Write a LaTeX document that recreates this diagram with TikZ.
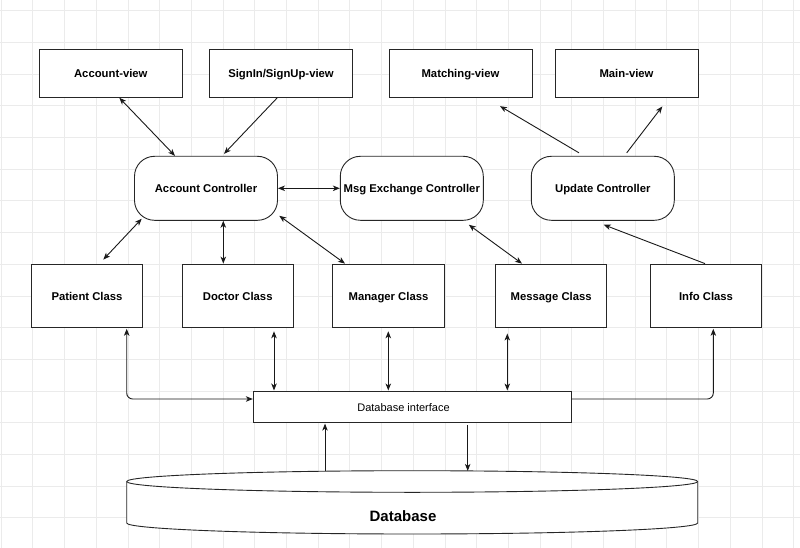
\documentclass[tikz,border=0pt]{standalone}
\usepackage{fontspec}
\setmainfont{Liberation Sans}
\usetikzlibrary{arrows.meta}
\tikzset{
  box/.style={draw=black!85, line width=0.9pt, fill=white, inner sep=0pt, align=center,
    text height=9pt, text depth=0pt,
    font=\fontsize{11.3}{13}\selectfont\bfseries},
  ctrl/.style={box, rounded corners=20pt, minimum width=143pt, minimum height=64pt},
  viewbox/.style={box, minimum width=143pt, minimum height=48pt},
  classbox/.style={box, minimum width=111.4pt, minimum height=63.3pt},
  conn/.style={draw=black!90, line width=0.9pt},
  tip/.style={-{Stealth[length=7pt,width=5.5pt,inset=2pt]}},
  twotip/.style={{Stealth[length=7pt,width=5.5pt,inset=2pt]}-{Stealth[length=7pt,width=5.5pt,inset=2pt]}},
}
\begin{document}
\begin{tikzpicture}[x=1pt,y=-1pt]
\useasboundingbox (0,0) rectangle (800,548);
\fill[white] (0,0) rectangle (800,548);
% grid
\foreach \i in {0,...,25} {\draw[black!8, line width=0.6pt] (1+31.7*\i,0) -- (1+31.7*\i,548);}
\foreach \j in {0,...,17} {\draw[black!8, line width=0.6pt] (0,10.5+31.7*\j) -- (800,10.5+31.7*\j);}

% views
\node[viewbox] (av) at (110.8,73.3) {Account-view};
\node[viewbox] (sv) at (281,73.3) {SignIn/SignUp-view};
\node[viewbox] (mv) at (460.5,73.3) {Matching-view};
\node[viewbox] (mainv) at (626.5,73.3) {Main-view};
% controllers
\node[ctrl] (ac) at (206,188.3) {Account Controller};
\node[ctrl] (mc) at (411.8,188.3) {Msg Exchange Controller};
\node[ctrl] (uc) at (602.8,188.3) {Update Controller};
% classes
\node[classbox] (pc) at (87,295.7) {Patient Class};
\node[classbox] (dc) at (237.7,295.7) {Doctor Class};
\node[classbox] (mgc) at (388.5,295.7) {Manager Class};
\node[classbox] (msc) at (551.2,295.7) {Message Class};
\node[classbox] (ic) at (706,295.7) {Info Class};
% database interface
\node[draw=black!85, line width=0.9pt, fill=white, inner sep=0pt, minimum width=318pt, minimum height=31.7pt] (dbi) at (412.3,406.8) {};
\node[font=\fontsize{11}{13}\selectfont, text height=8.5pt, text depth=0pt, inner sep=0pt] (dbit) at (403.5,407) {Database interface};
% database cylinder
\draw[draw=black!85, line width=0.9pt, fill=white]
  (126.7,481.5) -- (126.7,523) arc[start angle=180, end angle=360, x radius=285.5pt, y radius=11pt]
  -- (697.7,481.5) arc[start angle=0, end angle=180, x radius=285.5pt, y radius=10.8pt] -- cycle;
\draw[draw=black!85, line width=0.9pt]
  (126.7,481.5) arc[start angle=180, end angle=360, x radius=285.5pt, y radius=10.8pt];
\node[font=\fontsize{15}{18}\selectfont\bfseries] (db) at (403,516) {Database};
\coordinate (dbtopA) at (325,471.2);
\coordinate (dbtopB) at (467.7,470.9);

% connectors
\draw[conn, twotip] ([xshift=8.5pt]av.south) -- ([xshift=-31pt]ac.north);
\draw[conn, tip] ([xshift=-3.7pt]sv.south) -- ([xshift=18pt,yshift=2pt]ac.north);
\draw[conn, twotip] (ac.east) -- (mc.west);
\draw[conn, twotip] ([xshift=-64.3pt,yshift=2pt]ac.south) -- ([xshift=16.3pt,yshift=4pt]pc.north);
\draw[conn, twotip] ([xshift=17.3pt]ac.south) -- ([xshift=-14.4pt]dc.north);
\draw[conn, twotip] ([xshift=1.3pt,yshift=5pt]ac.south east) -- ([xshift=-43.5pt]mgc.north);
\draw[conn, twotip] ([xshift=57pt,yshift=-4pt]mc.south) -- ([xshift=-29.2pt]msc.north);
\draw[conn, tip] ([xshift=-23.8pt,yshift=3pt]uc.north) -- ([xshift=39.5pt,yshift=-8.4pt]mv.south);
\draw[conn, tip] ([xshift=23.9pt,yshift=3pt]uc.north) -- ([xshift=35.8pt,yshift=-8.7pt]mainv.south);
\draw[conn, tip] ([xshift=-1pt]ic.north) -- ([xshift=0.9pt,yshift=-4pt]uc.south);
\draw[conn, twotip, rounded corners=6pt] ([xshift=39.7pt,yshift=-1pt]pc.south) |- ([yshift=7.8pt]dbi.west);
\draw[conn, twotip] ([xshift=36.3pt,yshift=-3.5pt]dc.south) -- ([xshift=-138.3pt]dbi.north);
\draw[conn, twotip] ([xshift=-0.2pt,yshift=-3.5pt]mgc.south) -- ([xshift=-24pt]dbi.north);
\draw[conn, twotip] ([xshift=-43.9pt,yshift=-5.7pt]msc.south) -- ([xshift=95pt]dbi.north);
\draw[conn, tip, rounded corners=6pt] ([yshift=7.8pt]dbi.east) -| ([xshift=7.3pt,yshift=-1pt]ic.south);
\draw[conn, tip] (dbtopA) -- ([xshift=-87.3pt,yshift=-0.5pt]dbi.south);
\draw[conn, tip] ([xshift=55.4pt,yshift=-2pt]dbi.south) -- (dbtopB);
\end{tikzpicture}
\end{document}
